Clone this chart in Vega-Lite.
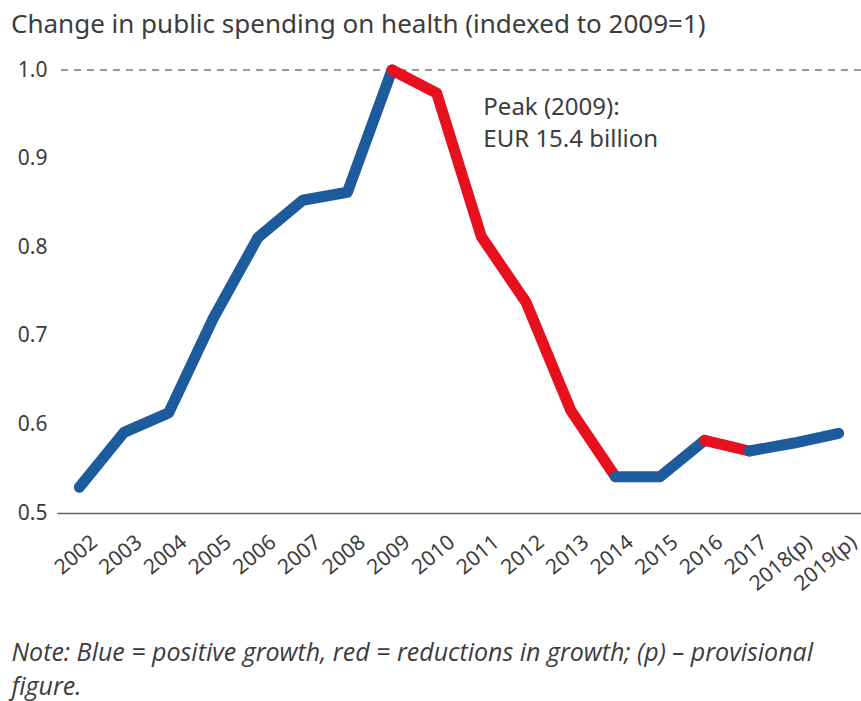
{
  "$schema": "https://vega.github.io/schema/vega-lite/v6.json",
  "width": 804,
  "height": 443,
  "autosize": "none",
  "padding": {"left": 57, "top": 70, "right": 0, "bottom": 188},
  "background": "white",
  "config": {
    "view": {"stroke": null},
    "font": "Noto Sans"
  },
  "title": {
    "text": "Change in public spending on health (indexed to 2009=1)",
    "anchor": "start",
    "frame": "bounds",
    "fontSize": 26,
    "fontWeight": "normal",
    "color": "#3c3c3c",
    "offset": 21
  },
  "datasets": {
    "series": [
      {"run": "A", "growth": "positive", "year": "2002", "value": 0.529},
      {"run": "A", "growth": "positive", "year": "2003", "value": 0.591},
      {"run": "A", "growth": "positive", "year": "2004", "value": 0.613},
      {"run": "A", "growth": "positive", "year": "2005", "value": 0.72},
      {"run": "A", "growth": "positive", "year": "2006", "value": 0.811},
      {"run": "A", "growth": "positive", "year": "2007", "value": 0.853},
      {"run": "A", "growth": "positive", "year": "2008", "value": 0.862},
      {"run": "A", "growth": "positive", "year": "2009", "value": 1.0},
      {"run": "B", "growth": "reduction", "year": "2009", "value": 1.0},
      {"run": "B", "growth": "reduction", "year": "2010", "value": 0.974},
      {"run": "B", "growth": "reduction", "year": "2011", "value": 0.812},
      {"run": "B", "growth": "reduction", "year": "2012", "value": 0.738},
      {"run": "B", "growth": "reduction", "year": "2013", "value": 0.616},
      {"run": "B", "growth": "reduction", "year": "2014", "value": 0.541},
      {"run": "C", "growth": "positive", "year": "2014", "value": 0.541},
      {"run": "C", "growth": "positive", "year": "2015", "value": 0.541},
      {"run": "C", "growth": "positive", "year": "2016", "value": 0.582},
      {"run": "D", "growth": "reduction", "year": "2016", "value": 0.582},
      {"run": "D", "growth": "reduction", "year": "2017", "value": 0.57},
      {"run": "E", "growth": "positive", "year": "2017", "value": 0.57},
      {"run": "E", "growth": "positive", "year": "2018(p)", "value": 0.579},
      {"run": "E", "growth": "positive", "year": "2019(p)", "value": 0.59}
    ],
    "reference": [{"level": 1.0}],
    "annotation": [{"year": "2011", "level": 0.957}]
  },
  "layer": [
    {
      "data": {"name": "reference"},
      "mark": {"type": "rule", "strokeDash": [7, 6], "color": "#7a7a7a", "strokeWidth": 1.3},
      "encoding": {"y": {"field": "level", "type": "quantitative"}}
    },
    {
      "data": {"name": "series"},
      "mark": {"type": "line", "strokeWidth": 11, "strokeCap": "round", "strokeJoin": "round", "clip": false},
      "encoding": {
        "x": {
          "field": "year",
          "type": "ordinal",
          "scale": {"type": "point", "padding": 0.5},
          "axis": {
            "title": ["Note: Blue = positive growth, red = reductions in growth; (p) – provisional", "figure."],
            "titleFontStyle": "italic",
            "titleFontWeight": "normal",
            "titleFont": "Open Sans",
            "titleFontSize": 25,
            "titleColor": "#3c3c3c",
            "titleAnchor": "start",
            "titleAlign": "left",
            "titleBaseline": "top",
            "titleX": -46,
            "titleY": 127,
            "titleLineHeight": 34,
            "labelAngle": -40,
            "labelFontSize": 21,
            "labelColor": "#3c3c3c",
            "labelPadding": 18,
            "labelOffset": 8,
            "ticks": false,
            "domainColor": "#666666",
            "domainWidth": 1.5,
            "grid": false
          }
        },
        "y": {
          "field": "value",
          "type": "quantitative",
          "scale": {"domain": [0.5, 1.0], "nice": false, "zero": false},
          "axis": {
            "title": null,
            "values": [0.5, 0.6, 0.7, 0.8, 0.9, 1.0],
            "format": ".1f",
            "labelFontSize": 21,
            "labelColor": "#3c3c3c",
            "labelPadding": 10,
            "ticks": false,
            "domain": false,
            "grid": false
          }
        },
        "color": {
          "field": "growth",
          "type": "nominal",
          "scale": {"domain": ["positive", "reduction"], "range": ["#1c5c9c", "#e8101c"]},
          "legend": null
        },
        "detail": {"field": "run"}
      }
    },
    {
      "data": {"name": "annotation"},
      "mark": {
        "type": "text",
        "text": ["Peak (2009):", "EUR 15.4 billion"],
        "align": "left",
        "baseline": "middle",
        "fontSize": 24,
        "lineHeight": 32,
        "color": "#3c3c3c",
        "dx": 2
      },
      "encoding": {
        "x": {"field": "year", "type": "ordinal"},
        "y": {"field": "level", "type": "quantitative"}
      }
    }
  ]
}
